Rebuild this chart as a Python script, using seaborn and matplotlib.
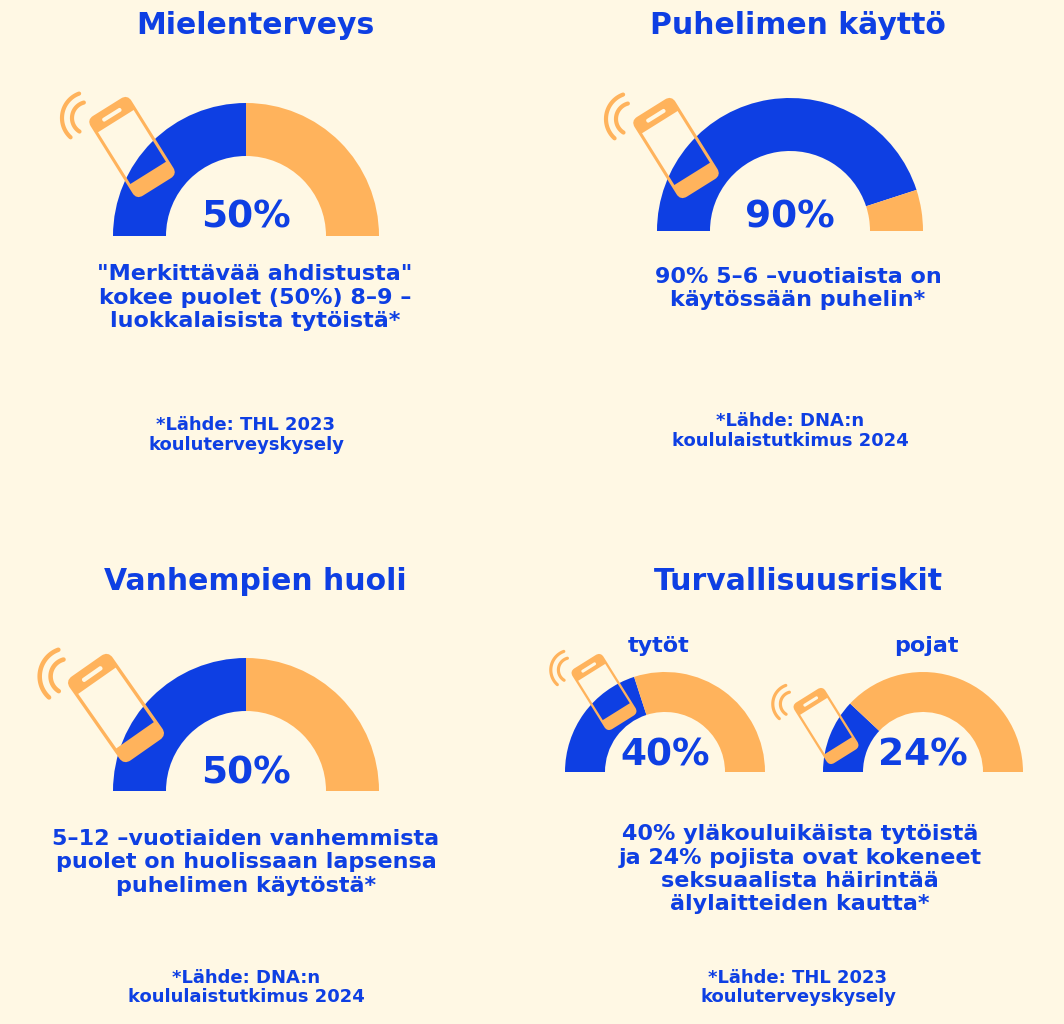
import numpy as np
import seaborn as sns
import matplotlib.pyplot as plt
from matplotlib.patches import FancyBboxPatch, Rectangle
from matplotlib.transforms import Affine2D

W, H = 1064, 1024
BG = "#FFF8E4"
BLUE = "#0E3FE3"
ORANGE = "#FFB35C"

titles = ["Mielenterveys", "Puhelimen käyttö", "Vanhempien huoli", "Turvallisuusriskit"]
gauge_labels = ["50%", "90%", "50%", "40%", "24%"]
gauge_values = [50, 90, 50, 40, 24]
sub_labels = ["tytöt", "pojat"]
captions = [
    ["\"Merkittävää ahdistusta\"", "kokee puolet (50%) 8–9 –", "luokkalaisista tytöistä*"],
    ["90% 5–6 –vuotiaista on", "käytössään puhelin*"],
    ["5–12 –vuotiaiden vanhemmista", "puolet on huolissaan lapsensa", "puhelimen käytöstä*"],
    ["40% yläkouluikäista tytöistä", "ja 24% pojista ovat kokeneet", "seksuaalista häirintää", "älylaitteiden kautta*"],
]
sources = [
    ["*Lähde: THL 2023", "kouluterveyskysely"],
    ["*Lähde: DNA:n", "koululaistutkimus 2024"],
    ["*Lähde: DNA:n", "koululaistutkimus 2024"],
    ["*Lähde: THL 2023", "kouluterveyskysely"],
]


def py(y):
    # picture pixels run downwards, axes upwards
    return H - y


def txt(ax, x, y, s, size):
    ax.text(x, py(y), s, color=BLUE, fontsize=size, fontweight="bold",
            ha="center", va="center", family="DejaVu Sans")


def gauge(ax, cx, cy, outer, inner, value):
    ax.pie([value, 100 - value, 100], colors=[BLUE, ORANGE, "none"], startangle=180,
           counterclock=False, center=(cx, py(cy)), radius=outer, frame=True,
           wedgeprops={"width": outer - inner, "linewidth": 0})


def phone(ax, cx, cy, scale=1.0, angle=32):
    # phone drawn upright around its centre, then turned
    tr = Affine2D().scale(scale).rotate_deg(angle).translate(cx, py(cy)) + ax.transData
    w, h = 45, 91
    box = dict(boxstyle="round,pad=0,rounding_size=6", transform=tr)
    outline = FancyBboxPatch((-w / 2, -h / 2), w, h, fc="none", ec=ORANGE, lw=2.2 * scale, zorder=5, **box)
    ax.add_patch(outline)
    # bands follow the rounded corners of the body
    clip = FancyBboxPatch((-w / 2, -h / 2), w, h, fc="none", ec="none", **box)
    ax.add_patch(clip)
    for y0 in [h / 2 - 15, -h / 2]:
        band = Rectangle((-w / 2, y0), w, 15, fc=ORANGE, ec="none", transform=tr, zorder=5)
        ax.add_patch(band)
        band.set_clip_path(clip)
    ax.add_patch(FancyBboxPatch((-11, h / 2 - 9.5), 22, 4, boxstyle="round,pad=0,rounding_size=1.8",
                                fc=BG, ec="none", transform=tr, zorder=6))
    # signal arcs on the upper left, not turned with the phone
    for rad, a0, a1 in [(16, 105, 238), (26, 110, 228)]:
        th = np.radians(np.linspace(a0, a1, 40))
        ax.plot(cx + scale * (-44 + rad * np.cos(th)), py(cy) + scale * (29 + rad * np.sin(th)),
                color=ORANGE, lw=3.0 * scale, solid_capstyle="round", zorder=5)


sns.set_theme(style="white", rc={"figure.facecolor": BG, "axes.facecolor": BG, "savefig.facecolor": BG})
fig = plt.figure(figsize=(W / 100, H / 100), dpi=100)
ax = fig.add_axes([0, 0, 1, 1])

gauge(ax, 246, 236, 133, 80, gauge_values[0])
gauge(ax, 790, 231, 133, 80, gauge_values[1])
gauge(ax, 246, 791, 133, 80, gauge_values[2])
gauge(ax, 665, 772, 100, 60, gauge_values[3])
gauge(ax, 923, 772, 100, 60, gauge_values[4])

phone(ax, 132, 147)
phone(ax, 676, 148)
phone(ax, 116, 708, scale=1.09, angle=35)
phone(ax, 604, 692, scale=0.76)
phone(ax, 826, 726, scale=0.76)

for x, y, s in zip([246, 790, 246, 665, 923], [218, 218, 774, 755, 755], gauge_labels):
    txt(ax, x, y, s, 27)
for x, y, s in zip([255, 798, 255, 798], [26, 26, 582, 582], titles):
    txt(ax, x, y, s, 21.5)
txt(ax, 659, 646, sub_labels[0], 16)
txt(ax, 926, 646, sub_labels[1], 16)

for x, y0, lines in zip([255, 798, 246, 800], [274, 277, 839, 834], captions):
    for i, s in enumerate(lines):
        txt(ax, x, y0 + i * 23.5, s, 16)
for x, y0, lines in zip([246, 790, 246, 798], [425, 421, 978, 978], sources):
    for i, s in enumerate(lines):
        txt(ax, x, y0 + i * 19.5, s, 13)

ax.set_xlim(0, W)
ax.set_ylim(0, H)
ax.set_aspect("equal")
ax.set_xticks([])
ax.set_yticks([])
sns.despine(ax=ax, left=True, bottom=True)

fig.savefig("out.png", dpi=100)
